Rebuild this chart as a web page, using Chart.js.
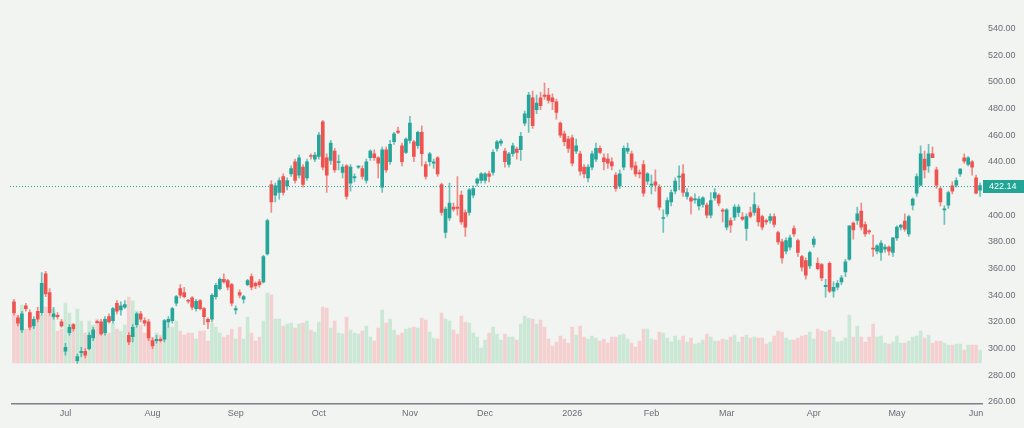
<!DOCTYPE html>
<html>
<head>
<meta charset="utf-8">
<script src="https://cdn.jsdelivr.net/npm/chart.js@4.4.1/dist/chart.umd.min.js"></script>
<style>
    html, body { margin: 0; padding: 0; background: #f1f4f1; }
    #chart-container { width: 1024px; height: 428px; }
</style>
</head>
<body>
<div id="chart-container"><canvas id="chart" width="1024" height="428"></canvas></div>
<script>
// trading calendar (US market days)
const startDate = '2025-06-11';
const endDate = '2026-06-02';
const holidays = ['2025-06-19', '2025-07-04', '2025-09-01', '2025-11-27', '2025-12-25',
    '2026-01-01', '2026-01-19', '2026-02-16', '2026-04-03', '2026-05-25'];

const monthTickLabels = ['Jul', 'Aug', 'Sep', 'Oct', 'Nov', 'Dec', '2026', 'Feb', 'Mar', 'Apr', 'May', 'Jun'];
const priceTicks = [260, 280, 300, 320, 340, 360, 380, 400, 420, 440, 460, 480, 500, 520, 540];

const opens = [
    335, 323, 314, 332, 327, 317, 328, 327, 356, 342,
    324, 325, 320, 298, 312, 318, 291, 297, 298, 300,
    308, 320, 320, 312, 324, 321, 334, 329, 331, 310,
    309, 318, 326, 321, 320, 306, 306, 307, 307, 320,
    321, 334, 345, 342, 336, 338, 330, 336, 330, 322,
    322, 339, 345, 352, 351, 348, 329, 342, 337, 348,
    354, 349, 350, 350, 371, 423, 415, 417, 429, 422,
    431, 440, 430, 436, 428, 444.5, 442, 444, 470, 443,
    441, 448, 439.5, 432, 437, 424, 428, 436, 435, 426,
    443, 446, 443, 421, 449, 440, 455, 463, 452, 447,
    456, 455, 452, 462, 438, 440, 439, 443, 423, 387,
    398, 406, 406, 415, 402, 402, 415, 424, 426, 426,
    431, 432, 450, 454, 448, 438, 446, 449.5, 449, 469,
    473, 488, 479, 488, 490, 490, 488, 485, 469, 461,
    457, 458, 448, 446, 436, 428, 436, 442, 450, 443,
    442, 440, 430, 422, 436, 448, 446, 437, 432, 438,
    425.5, 422.5, 425, 421, 397.5, 401, 410, 418, 428.5, 431,
    414, 413, 411.5, 407, 408, 407.5, 400, 413, 415, 403.5,
    391, 396, 398.5, 402, 398.5, 390, 402, 402, 405, 399,
    396, 396, 399, 387, 380, 373, 376, 390, 381, 369,
    366, 362, 378, 364, 363, 346.5, 364, 343, 346, 350,
    357.5, 367, 394, 396, 403, 393, 388, 375, 373, 372,
    374.5, 376, 372, 383, 391, 395.5, 386, 407.5, 416.5, 422.5,
    442, 437, 446, 434, 420, 404, 407.5, 422, 422.5, 431,
    443, 438, 440, 428, 418.7
];

const highs = [
    337, 325, 328, 334, 329, 324, 331, 357, 358, 345,
    331, 327, 322, 304, 318, 319, 296, 301, 300, 312,
    316, 321, 322, 324, 326, 331, 336, 335, 336, 312,
    318, 327, 328, 323, 322, 308, 310, 308, 322, 324,
    331, 340, 348, 346, 337, 339, 337, 337, 331, 323,
    341, 349, 353, 356, 352, 349, 332, 344, 340, 352,
    356, 350, 352, 370, 397, 426, 424, 428, 431, 428,
    437, 442, 445, 438, 442, 446, 447, 462, 471, 446,
    456, 450, 445, 438, 438, 438, 431, 437, 437, 442,
    449, 449, 444, 451, 451, 456, 462, 466, 454, 458,
    474, 456, 463, 467, 440, 447, 442, 444, 424, 406,
    424, 409, 429, 418, 404, 420, 422, 428, 432, 432,
    433, 449, 456, 457, 450, 447, 454, 451, 462, 478,
    492, 493, 490, 492, 499, 495, 491, 487, 470, 463,
    459, 460, 457, 448, 438, 438, 448, 454, 452, 446,
    446, 443, 432, 434, 452, 454, 448, 440, 434, 441,
    432, 430, 434, 423, 404, 413, 419, 428, 437, 438,
    420, 414, 416, 414, 414, 409, 417, 420, 416, 405,
    405, 398, 408, 408, 402, 401, 406, 417, 407, 400,
    397, 401, 401, 388, 382, 383, 385, 392, 382, 370,
    368, 373, 384, 368, 364, 352, 365, 350, 351, 355,
    367, 392, 395, 406, 409, 395, 389, 385, 378, 381,
    378, 377, 383, 392, 393, 401, 400, 413, 431, 452,
    448, 453, 451, 436, 421, 407, 418, 425, 428, 435,
    446, 444, 441, 430, 424
];

const lows = [
    325, 317, 312, 328, 314, 315, 320, 325, 339, 325,
    322, 322, 316, 295, 310, 313, 289, 294, 293, 299,
    306, 319, 310, 310, 319, 319, 326, 325, 330, 303,
    305, 316, 320, 317, 306, 300, 304, 305, 305, 316,
    319, 332, 338, 338, 334, 329, 328, 329, 318, 315,
    320, 337, 344, 349, 344, 332, 326, 338, 334, 347,
    344, 345, 346, 349, 370, 402, 410, 412, 415, 419,
    429, 424, 428, 421, 426, 442, 440, 442, 434, 417,
    438, 432, 434, 428, 412, 418, 425, 435, 427, 424,
    441, 441, 428, 417, 432, 438, 453, 461, 437, 446,
    454, 440, 450, 437, 427, 437, 435, 429, 400, 383,
    396, 403, 400, 393, 384, 400, 413, 422, 424, 424,
    425, 430, 448, 452, 436, 436, 444, 442, 441, 467,
    462, 465, 476, 479, 487, 484, 479, 472, 458, 452,
    447, 437, 446, 430, 428, 425, 434, 440, 446, 434,
    435, 434, 418, 420, 434, 446, 434, 429, 428, 414,
    423, 416, 418, 404, 387, 399, 407, 416, 419, 414,
    412, 401, 409, 404, 406, 398, 398, 411, 407, 395,
    389, 387, 396, 399, 396, 381, 398, 400, 392, 389,
    393, 394, 391, 378, 364, 371, 374, 384, 369, 358,
    352, 360, 376, 359, 351, 338.5, 342, 338.5, 344, 348,
    354, 366, 382, 393, 389, 384, 386, 369, 371, 366,
    372, 370, 369, 381, 389, 388, 384, 404, 414, 422,
    428, 432, 443, 420, 407, 393, 405, 416, 421, 429,
    439, 437, 430, 416, 414
];

const closes = [
    327, 319, 326, 330, 316, 322, 322, 349, 341, 327,
    326, 324, 317, 301, 316, 315, 294, 298, 295, 310,
    314, 319.5, 311, 322, 320, 330, 328, 332, 333, 305,
    316, 326, 322, 319, 308, 302, 307, 306, 321, 322,
    330, 339, 340, 339, 335.5, 331, 335.5, 330, 324, 320,
    340, 347.5, 352, 350, 346, 334, 330, 340, 339, 351,
    346, 347, 348, 369, 396, 410, 422, 426, 417, 426,
    435, 426, 443, 423, 440, 444, 445, 460, 436, 430,
    454, 434, 440, 436, 414, 436, 429, 436.5, 429, 440,
    448, 443, 439, 449, 434, 453, 461, 462, 440, 457,
    469, 444, 462, 446, 429, 446, 440, 431, 402, 404.5,
    409, 404.5, 405, 395, 391, 419, 420, 427, 431, 431,
    429, 447, 455, 455.5, 440, 446, 452, 447, 459, 476,
    490, 467, 484, 482, 489, 486, 485, 477, 460, 455,
    450, 439, 452, 433, 431, 436, 446, 450, 447, 440,
    439, 437, 420, 431, 450, 450, 436, 431, 431, 416.5,
    431, 423, 422.5, 406, 398, 411, 417, 425.5, 429, 417,
    417, 410.5, 412, 412, 413, 400, 411, 417, 409, 403,
    404, 392.5, 406, 406, 397, 399, 399, 408, 395, 391,
    395, 399, 393, 380, 368, 381, 383, 386, 372, 361,
    355, 372, 382, 360, 353, 347.5, 343, 346, 349, 353,
    365, 392, 389, 401, 391, 386, 387.5, 374.5, 377, 379,
    376, 373, 383, 391, 392.5, 389.5, 399, 412, 429, 446,
    434, 446, 443, 422.5, 410, 404.5, 417, 418, 426, 434.5,
    440.5, 443, 436, 416.5, 422.14
];

// volume, millions of shares
const volumes = [
    25, 24, 29, 17, 25, 18, 21, 24, 28, 24,
    27, 16, 17, 30, 25, 17, 27, 21, 15, 21,
    19, 22, 15, 22, 15, 20, 17, 16, 19, 33,
    31, 26, 19, 15, 16, 13, 15, 14, 16, 18,
    18, 21, 16, 14, 15, 15, 12, 16, 16, 11,
    20, 18, 15, 13, 14, 17, 12, 18, 12, 23,
    15, 11, 13, 21, 35, 34, 22, 22, 18.5, 19.5,
    20, 17.5, 19.5, 20, 21, 16.5, 15.5, 20.5, 28, 27.5,
    17.5, 21, 15, 14.5, 23, 16.5, 15, 14.5, 16, 18.5,
    13, 11, 17.5, 26.5, 20, 22, 16.5, 14, 15, 17,
    17.5, 18, 17.5, 22.5, 21.5, 15.5, 12.5, 12, 25, 22,
    21, 16.5, 14.5, 23.5, 20.5, 20, 15, 13, 7.5, 11.5,
    15, 18, 14.5, 11.5, 14.5, 13, 13, 11.5, 19.5, 23.5,
    22.5, 22, 19.5, 21.5, 18, 12, 8.5, 10.5, 13.5, 12,
    10, 18, 14, 18.5, 13, 12, 13.5, 12.5, 11, 12,
    10, 13, 13, 14, 14.5, 12, 10, 8, 11, 17,
    17, 12, 11.5, 15.5, 15, 12.5, 10.5, 13.5, 11.5, 13.5,
    10.5, 12.5, 9.5, 10, 11.5, 14.5, 13, 11, 11, 12,
    11.5, 13, 14, 10.5, 13, 14, 12.5, 13, 12.5, 12.5,
    9.5, 10.5, 13.5, 16, 15.5, 12.5, 11.5, 11.5, 12.5, 13.5,
    14, 15.5, 12, 17, 16, 15.5, 16.5, 13, 10.5, 11,
    12.5, 24, 13, 18.5, 13, 10.5, 13, 19.5, 13, 13.5,
    10, 9.5, 10.5, 13.5, 10, 10, 11, 13, 13.5, 16,
    12.5, 14, 10, 11, 11, 10, 9, 9, 9.5, 9.5,
    6.5, 9, 9, 9, 6.5
];

const upColor = '#26a69a';
const downColor = '#ef5350';
const upWick = 'rgba(38, 166, 154, 0.65)';
const downWick = 'rgba(239, 83, 80, 0.65)';
const upVolume = '#cae8d5';
const downVolume = '#f5d0d0';
const axisTextColor = '#6a6d78';
const backgroundColor = '#f1f4f1';

window.onload = function() {
    createChart();
}

function buildTradingDays() {
    const days = [];
    const day = new Date(startDate + 'T00:00:00Z');
    const end = new Date(endDate + 'T00:00:00Z');

    while (day <= end) {
        const weekday = day.getUTCDay();
        const iso = day.toISOString().slice(0, 10);
        if (weekday !== 0 && weekday !== 6 && !holidays.includes(iso)) {
            days.push(iso);
        }
        day.setUTCDate(day.getUTCDate() + 1);
    }

    return days;
}

function findMonthStarts(days) {
    const starts = [];
    for (let i = 1; i < days.length; i++) {
        if (days[i].slice(5, 7) !== days[i - 1].slice(5, 7)) {
            starts.push(i);
        }
    }
    return starts;
}

// background fill, dotted last-price line and its label on the price axis
const lastPricePlugin = {
    id: 'lastPrice',
    beforeDraw(chart) {
        const ctx = chart.ctx;
        ctx.save();
        ctx.fillStyle = backgroundColor;
        ctx.fillRect(0, 0, chart.width, chart.height);
        ctx.restore();
    },
    afterDraw(chart) {
        const ctx = chart.ctx;
        const area = chart.chartArea;
        const lastClose = closes[closes.length - 1];
        const y = Math.round(chart.scales.y.getPixelForValue(lastClose)) + 0.5;

        ctx.save();
        ctx.strokeStyle = upColor;
        ctx.lineWidth = 1;
        ctx.setLineDash([1, 2]);
        ctx.beginPath();
        ctx.moveTo(area.left - 2, y);
        ctx.lineTo(area.right, y);
        ctx.stroke();
        ctx.setLineDash([]);

        ctx.fillStyle = '#22a595';
        ctx.fillRect(area.right + 1, y - 6.5, chart.width - area.right - 1, 13);
        ctx.fillStyle = '#ffffff';
        ctx.font = '9px "Liberation Sans", sans-serif';
        ctx.textBaseline = 'middle';
        ctx.textAlign = 'left';
        ctx.fillText(lastClose.toFixed(2), area.right + 7, y + 0.5);
        ctx.restore();
    },
};

function createChart() {
    const canvas = document.querySelector('#chart');
    const days = buildTradingDays();
    const monthStarts = findMonthStarts(days);

    const tickLabelByIndex = {};
    monthStarts.forEach((index, k) => {
        tickLabelByIndex[index] = monthTickLabels[k];
    });

    const isUp = closes.map((close, i) => close >= opens[i]);

    new Chart(canvas, {
        type: 'bar',
        data: {
            labels: days,
            datasets: [
                {
                    label: 'body',
                    data: opens.map((open, i) => [open, closes[i]]),
                    backgroundColor: isUp.map(up => up ? upColor : downColor),
                    barThickness: 3,
                    minBarLength: 1,
                    grouped: false,
                    yAxisID: 'y',
                    order: 1,
                },
                {
                    label: 'wick',
                    data: lows.map((low, i) => [low, highs[i]]),
                    backgroundColor: isUp.map(up => up ? upWick : downWick),
                    barThickness: 1,
                    grouped: false,
                    yAxisID: 'y',
                    order: 2,
                },
                {
                    label: 'volume',
                    data: volumes,
                    backgroundColor: isUp.map(up => up ? upVolume : downVolume),
                    barThickness: 3,
                    grouped: false,
                    yAxisID: 'vol',
                    order: 3,
                },
            ],
        },
        options: {
            responsive: false,
            maintainAspectRatio: false,
            animation: false,
            devicePixelRatio: 1,
            layout: {
                padding: { left: 12, top: 0, right: 0, bottom: 0 },
            },
            plugins: {
                legend: { display: false },
                tooltip: { enabled: false },
            },
            scales: {
                x: {
                    type: 'category',
                    offset: true,
                    grid: { display: false, drawTicks: false },
                    border: { display: true, color: '#7d808a', width: 1.5 },
                    ticks: {
                        autoSkip: false,
                        maxRotation: 0,
                        padding: 4,
                        color: axisTextColor,
                        font: { family: '"Liberation Sans", sans-serif', size: 9 },
                        callback: (value) => tickLabelByIndex[value] || '',
                    },
                    afterBuildTicks: (scale) => {
                        scale.ticks = monthStarts.map(index => ({ value: index }));
                    },
                    afterFit: (scale) => {
                        scale.height = 24;
                    },
                },
                y: {
                    position: 'right',
                    min: 258.5,
                    max: 552.7,
                    grid: { display: false, drawTicks: false },
                    border: { display: false },
                    ticks: {
                        padding: 6,
                        color: axisTextColor,
                        font: { family: '"Liberation Sans", sans-serif', size: 9 },
                        callback: (value) => value.toFixed(2),
                    },
                    afterBuildTicks: (scale) => {
                        scale.ticks = priceTicks.map(value => ({ value: value }));
                    },
                    afterFit: (scale) => {
                        scale.width = 42;
                    },
                },
                vol: {
                    display: false,
                    min: -20.5,
                    max: 176,
                },
            },
        },
        plugins: [lastPricePlugin],
    });
}
</script>
</body>
</html>
